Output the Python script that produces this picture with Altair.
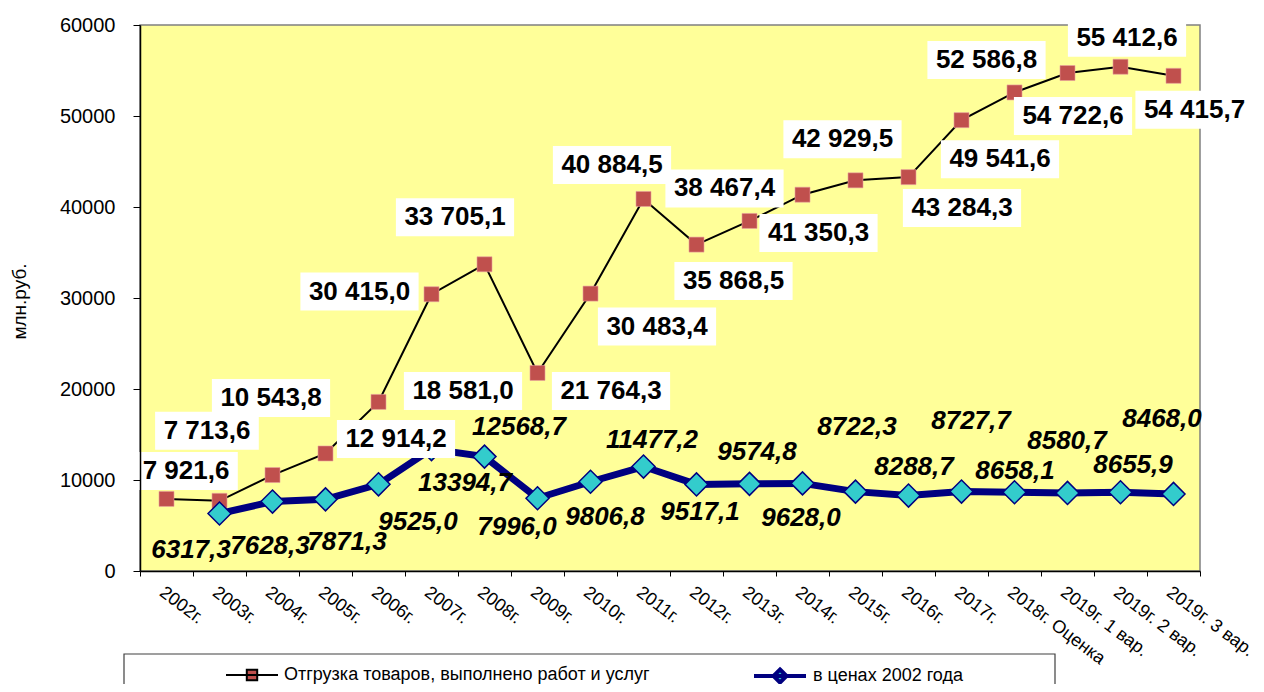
import altair as alt
import pandas as pd

# ---------------- data ----------------
categories = ["2002г.", "2003г.", "2004г.", "2005г.", "2006г.", "2007г.", "2008г.",
              "2009г.", "2010г.", "2011г.", "2012г.", "2013г.", "2014г.", "2015г.",
              "2016г.", "2017г.", "2018г. Оценка", "2019г. 1 вар.", "2019г. 2 вар.",
              "2019г. 3 вар."]
shipment = [7921.6, 7713.6, 10543.8, 12914.2, 18581.0, 30415.0, 33705.1, 21764.3,
            30483.4, 40884.5, 35868.5, 38467.4, 41350.3, 42929.5, 43284.3, 49541.6,
            52586.8, 54722.6, 55412.6, 54415.7]
prices2002 = [None, 6317.3, 7628.3, 7871.3, 9525.0, 13394.7, 12568.7, 7996.0,
              9806.8, 11477.2, 9517.1, 9574.8, 9628.0, 8722.3, 8288.7, 8727.7,
              8658.1, 8580.7, 8655.9, 8468.0]
S1 = "Отгрузка товаров, выполнено работ и услуг"
S2 = "в  ценах 2002 года"
y_ticks = [0, 10000, 20000, 30000, 40000, 50000, 60000]

# ---------------- label placement (style, pixel offsets from the point) -------------
red_dx = [19.5, -12.5, -1.5, 70.5, 84.5, -72, -29.5, 73.5, 66.5, -31.5,
          37, -25, 16, -13, 53.5, 38.5, -28, 5.5, 6.5, 21]
red_dy = [-28, -70, -77, -14.5, -11, -2.7, -47, 18, 33, -34,
          36.5, -32.5, 38.3, -41, 31, 39, -32.5, 43, -29, 34]
blue_dx = [0, -28.5, -2.5, 21.5, 39.5, 33.5, 34.5, -20.5, 14.5, 8.5,
           3.5, 7.5, -1.5, 1.5, 5.5, 9.5, 0.5, -0.5, 12.5, -11.5]
blue_dy = [0, 36.5, 44, 42.6, 37.7, 34, -29.6, 29, 35, -26.6,
           27.6, -32, 34.6, -64.6, -28.6, -70.6, -21.2, -52, -27, -75]

FONT = "Liberation Sans"
LBL_SIZE = 26
BOX_H = 38
BOX_PAD = 17


def fmt_red(v):
    return f"{v:,.1f}".replace(",", " ").replace(".", ",")


def fmt_blue(v):
    return f"{v:.1f}".replace(".", ",")


def text_w(s):
    w = 0.0
    for ch in s:
        w += 0.278 if ch in " ,." else 0.556
    return w * LBL_SIZE


red_rows = []
for i, (c, v) in enumerate(zip(categories, shipment)):
    lab = fmt_red(v)
    w = text_w(lab) + BOX_PAD
    dx, dy = red_dx[i], red_dy[i]
    box = f"M{dx - w / 2:.1f},{dy - BOX_H / 2:.1f}h{w:.1f}v{BOX_H}h{-w:.1f}Z"
    red_rows.append({"cat": c, "value": v, "series": S1, "label": lab,
                     "dx": dx, "dy": dy, "box": box})
df_red = pd.DataFrame(red_rows)

blue_rows = []
for i, (c, v) in enumerate(zip(categories, prices2002)):
    if v is None:
        continue
    blue_rows.append({"cat": c, "value": v, "series": S2, "label": fmt_blue(v),
                      "dx": blue_dx[i], "dy": blue_dy[i]})
df_blue = pd.DataFrame(blue_rows)

# ---------------- encodings ----------------
x_enc = alt.X(
    "cat:N", sort=categories,
    scale=alt.Scale(type="band", paddingInner=0, paddingOuter=0),
    axis=alt.Axis(title=None, labelAngle=37, labelAlign="left", labelBaseline="top",
                  labelFont=FONT, labelFontSize=18, labelColor="black",
                  labelPadding=7, tickBand="extent", tickSize=5, tickColor="black",
                  domainColor="black", domainWidth=1.5, labelOverlap=False,
                  labelBound=False, labelFlush=False, labelLimit=0, grid=False,
                  zindex=1),
)
y_enc = alt.Y(
    "value:Q",
    scale=alt.Scale(domain=[0, 60000], nice=False),
    axis=alt.Axis(title="млн.руб.", values=y_ticks, format="d", labelFont=FONT,
                  labelFontSize=20, labelColor="black", tickSize=7, tickColor="black",
                  domainColor="black", domainWidth=1.5, labelPadding=18, grid=False,
                  titleFont=FONT, titleFontSize=19, titleFontWeight="normal",
                  titleColor="black", titleX=-121, titleY=276, titleAngle=270,
                  titleAlign="center", titleBaseline="middle", zindex=1),
)

PATH_SQ = "M-1,0H1M-0.2,-0.2H0.2V0.2H-0.2Z"
PATH_DM = "M-1,0H1M0,-0.25L0.25,0L0,0.25L-0.25,0Z"

red_line = alt.Chart(df_red).mark_line(strokeWidth=2).encode(
    x=x_enc, y=y_enc,
    stroke=alt.Stroke("series:N", scale=alt.Scale(domain=[S1], range=["#000000"]),
                      legend=alt.Legend(title=None, orient="none", legendX=85, legendY=623,
                                        symbolType=PATH_SQ, symbolSize=2704,
                                        symbolFillColor="#C0504D", symbolStrokeWidth=2,
                                        labelFont=FONT, labelFontSize=18,
                                        labelColor="black", labelOffset=5, padding=0,
                                        labelLimit=0)),
)
blue_line = alt.Chart(df_blue).mark_line(strokeWidth=7).encode(
    x=x_enc, y=y_enc,
    stroke=alt.Stroke("series:N", scale=alt.Scale(domain=[S2], range=["#000080"]),
                      legend=alt.Legend(title=None, orient="none", legendX=612, legendY=623,
                                        symbolType=PATH_DM, symbolSize=2704,
                                        symbolFillColor="#33CCCC", symbolStrokeWidth=4,
                                        labelFont=FONT, labelFontSize=18,
                                        labelColor="black", labelOffset=5, padding=0,
                                        labelLimit=0)),
)
red_pts = alt.Chart(df_red).mark_point(shape="square", filled=True, size=225,
                                       fill="#C0504D", stroke="#E8A0A0",
                                       strokeWidth=0.6, opacity=1).encode(x=x_enc, y=y_enc)
blue_pts = alt.Chart(df_blue).mark_point(shape="diamond", filled=True, size=530,
                                         fill="#33CCCC", stroke="#000080",
                                         strokeWidth=1.5, opacity=1).encode(x=x_enc, y=y_enc)

red_boxes = alt.Chart(df_red).mark_point(filled=True, size=4, fill="white",
                                         opacity=1, strokeWidth=0).encode(
    x=x_enc, y=y_enc, shape=alt.Shape("box:N", scale=None))

red_text = alt.Chart(df_red).mark_text(
    font=FONT, fontSize=LBL_SIZE, fontWeight="bold", color="black",
    align="center", baseline="middle",
    dx={"expr": "datum.dx"}, dy={"expr": "datum.dy"},
).encode(x=x_enc, y=y_enc, text="label:N")

blue_text = alt.Chart(df_blue).mark_text(
    font=FONT, fontSize=LBL_SIZE, fontWeight="bold", fontStyle="italic", color="black",
    align="center", baseline="middle",
    dx={"expr": "datum.dx"}, dy={"expr": "datum.dy"},
).encode(x=x_enc, y=y_enc, text="label:N")

legend_frame = alt.Chart(pd.DataFrame({"k": [0]})).mark_rect(
    fill="white", fillOpacity=0, stroke="#404040", strokeWidth=1.2).encode(
    x=alt.value(-16), x2=alt.value(915), y=alt.value(629), y2=alt.value(720))

chart = alt.layer(
    legend_frame, red_line, blue_line, red_pts, blue_pts, red_boxes, red_text, blue_text
).resolve_scale(stroke="independent").resolve_legend(stroke="independent").properties(
    width=1060, height=546,
    padding={"left": 132, "top": 17, "right": 56, "bottom": 113},
    autosize=alt.AutoSizeParams(type="none"),
    background="white",
).configure_view(fill="#FFFF99", stroke="#808080", strokeWidth=1.5)

chart.save("out.html", embed_options={"renderer": "svg", "actions": False})
